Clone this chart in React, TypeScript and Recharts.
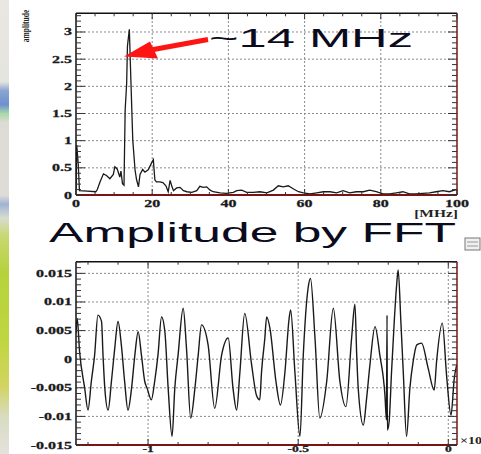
import React from 'react';
import { LineChart, Line, XAxis, YAxis, ReferenceLine } from 'recharts';

// ---------- Spectrum (top) ----------
const specFreq = [0, 0.2, 0.6, 0.9, 3, 5.2, 5.6, 6.3, 7.2, 8.0, 8.9, 9.8, 10.2, 10.8, 11.5, 11.8, 12.2, 12.6, 12.9, 13.3, 13.5, 14.0, 14.4, 14.9, 15.5, 15.9, 16.4, 16.8, 17.5, 18.1, 19.0, 19.9, 20.3, 20.7, 21.1, 22.0, 22.8, 23.6, 24.2, 24.7, 25.2, 25.6, 26.4, 27.3, 28.2, 29.1, 30.4, 31.7, 32.5, 33.4, 34.3, 35.2, 36.0, 37.8, 39.5, 41.3, 42.2, 43.5, 44.8, 46.5, 48.3, 50.1, 51.8, 53.1, 54.4, 55.7, 57.1, 58.4, 59.7, 61.4, 63.2, 64.9, 66.7, 68.4, 70.1, 71.8, 73.6, 75.4, 77.1, 78.8, 80.6, 82.3, 84.1, 85.8, 87.5, 89.2, 91.0, 92.8, 94.5, 96.3, 98.0, 99.3, 100];
const specAmp = [0.1, 0.92, 0.55, 0.08, 0.07, 0.06, 0.1, 0.24, 0.39, 0.36, 0.30, 0.38, 0.52, 0.48, 0.33, 0.44, 0.21, 0.18, 1.56, 2.06, 2.74, 3.05, 2.12, 1.01, 0.46, 0.28, 0.15, 0.38, 0.47, 0.42, 0.47, 0.60, 0.65, 0.28, 0.24, 0.24, 0.23, 0.17, 0.06, 0.27, 0.15, 0.08, 0.13, 0.14, 0.08, 0.06, 0.05, 0.08, 0.16, 0.14, 0.15, 0.09, 0.06, 0.04, 0.03, 0.05, 0.08, 0.09, 0.05, 0.05, 0.06, 0.04, 0.09, 0.17, 0.15, 0.17, 0.11, 0.06, 0.04, 0.02, 0.04, 0.06, 0.06, 0.04, 0.08, 0.04, 0.06, 0.06, 0.09, 0.06, 0.02, 0.02, 0.04, 0.06, 0.02, 0.02, 0.03, 0.04, 0.06, 0.08, 0.06, 0.09, 0.1];
const specXMajor = [0, 20, 40, 60, 80, 100];
const specXLabels = ['0', '20', '40', '60', '80', '100'];
const specYMajor = [0, 0.5, 1, 1.5, 2, 2.5, 3];
const specYLabels = ['0', '0.5', '1', '1.5', '2', '2.5', '3'];

// ---------- Waveform (bottom) ----------
const wavTime = [-1.240, -1.236, -1.228, -1.211, -1.200, -1.189, -1.178, -1.167, -1.155, -1.150, -1.144, -1.133, -1.122, -1.111, -1.100, -1.089, -1.078, -1.067, -1.055, -1.044, -1.033, -1.022, -1.011, -1.003, -0.989, -0.978, -0.967, -0.955, -0.944, -0.933, -0.920, -0.911, -0.900, -0.883, -0.872, -0.858, -0.844, -0.833, -0.822, -0.800, -0.778, -0.755, -0.733, -0.717, -0.705, -0.694, -0.678, -0.655, -0.639, -0.628, -0.622, -0.611, -0.605, -0.594, -0.574, -0.559, -0.544, -0.530, -0.525, -0.511, -0.494, -0.483, -0.467, -0.459, -0.444, -0.428, -0.405, -0.383, -0.361, -0.341, -0.322, -0.311, -0.305, -0.300, -0.283, -0.272, -0.261, -0.244, -0.228, -0.211, -0.206, -0.204, -0.203, -0.197, -0.189, -0.180, -0.172, -0.167, -0.158, -0.150, -0.139, -0.128, -0.117, -0.105, -0.089, -0.067, -0.047, -0.039, -0.020, -0.005, 0.009, 0.020, 0.028];
const wavSignal = [0.0046, 0.0071, 0.0013, -0.0051, -0.0089, -0.0039, 0.0007, 0.0077, 0.0066, 0.0007, -0.0051, -0.0089, -0.0039, 0.0019, 0.0066, 0.0025, -0.0039, -0.0089, -0.0051, 0.0007, 0.0048, 0.0007, -0.0039, -0.0051, -0.0071, -0.0039, 0.0007, 0.0074, 0.0048, -0.0051, -0.0135, -0.0051, 0.0007, 0.0089, 0.0019, -0.0103, -0.0051, 0.0007, 0.0060, 0.0025, -0.0086, 0.0007, 0.0037, -0.0051, -0.0089, -0.0022, 0.0080, -0.0010, -0.0063, -0.0071, -0.0022, 0.0037, 0.0074, 0.0054, -0.0039, -0.0080, -0.0022, 0.0072, 0.0086, -0.0022, -0.0135, 0.0007, 0.0124, 0.0141, 0.0037, -0.0103, -0.0039, 0.0089, -0.0039, -0.0083, 0.0037, 0.0096, 0.0007, -0.0051, -0.0115, -0.0068, -0.0010, 0.0057, 0.0007, -0.0063, -0.0106, 0.0077, -0.0124, -0.0109, -0.0022, 0.0066, 0.0130, 0.0156, 0.0066, -0.0022, -0.0135, -0.0051, -0.0004, 0.0025, 0.0028, -0.0016, -0.0054, -0.0004, 0.0063, -0.0033, -0.0098, -0.0033, -0.0010];
const wavXMajor = [-1, -0.5, 0];
const wavXLabels = ['-1', '-0.5', '0'];
const wavYMajor = [-0.015, -0.01, -0.005, 0, 0.005, 0.01, 0.015];
const wavYLabels = ['-0.015', '-0.01', '-0.005', '0', '0.005', '0.01', '0.015'];

const minorTicks = (a: number, b: number, step: number) => {
  const out: number[] = [];
  const n = Math.round((b - a) / step);
  for (let i = 0; i <= n; i++) out.push(+(a + i * step).toFixed(6));
  return out;
};

const specXMinor = minorTicks(0, 100, 5);
const specYMinor = minorTicks(0, 3.3, 0.1);
const wavXMinor = minorTicks(-1.2, 0, 0.1);
const wavYMinor = minorTicks(-0.015, 0.017, 0.001);

const specData = specFreq.map((f, i) => ({ f, a: specAmp[i] }));
const wavData = wavTime.map((t, i) => ({ t, v: wavSignal[i] }));

const SERIF = '"Liberation Serif", "DejaVu Serif", serif';
const SANS = '"Liberation Sans", Arial, sans-serif';
const FRAME_DARK = '#111';
const FRAME_RED = '#7a1414';
const GRID = '#8a8a8a';

type Side = 'left' | 'right' | 'top' | 'bottom';

function makeTick(side: Side, major: number[], labels: string[] | null, majorLen: number, minorLen: number, color: string, labelDy = 12, labelSize = 10) {
  return (props: any) => {
    const { x, y, payload } = props;
    const v = payload.value;
    const idx = major.findIndex((m) => Math.abs(m - v) < 1e-7);
    const len = idx >= 0 ? majorLen : minorLen;
    let line: any = null;
    if (side === 'left') line = <line x1={x} y1={y} x2={x + len} y2={y} stroke={color} strokeWidth={1} />;
    if (side === 'right') line = <line x1={x} y1={y} x2={x - len} y2={y} stroke={color} strokeWidth={1} />;
    if (side === 'top') line = <line x1={x} y1={y} x2={x} y2={y + len} stroke={color} strokeWidth={1} />;
    if (side === 'bottom') line = <line x1={x} y1={y} x2={x} y2={y - len} stroke={color} strokeWidth={1} />;
    let label: any = null;
    if (labels && idx >= 0) {
      if (side === 'left') {
        label = (
          <text transform={`translate(${x - 4},${y + 3.5}) scale(1.6,1)`} textAnchor="end" fontFamily={SERIF} fontWeight="bold" fontSize={labelSize} fill="#1a1a1a" stroke="#1a1a1a" strokeWidth={0.25}>
            {labels[idx]}
          </text>
        );
      } else if (side === 'bottom') {
        label = (
          <text transform={`translate(${x},${y + labelDy}) scale(1.6,1)`} textAnchor="middle" fontFamily={SERIF} fontWeight="bold" fontSize={labelSize} fill="#1a1a1a" stroke="#1a1a1a" strokeWidth={0.25}>
            {labels[idx]}
          </text>
        );
      }
    }
    return (
      <g>
        {line}
        {label}
      </g>
    );
  };
}

function Spectrum() {
  return (
    <LineChart width={481} height={225} data={specData} margin={{ top: 12.3, right: 23, bottom: 29, left: 75 }}>
      <XAxis xAxisId="b" orientation="bottom" type="number" dataKey="f" domain={[0, 100]} allowDataOverflow ticks={specXMinor} interval={0} height={1} tickSize={0} tickMargin={0} tickLine={false} axisLine={{ stroke: FRAME_RED, strokeWidth: 2 }} tick={makeTick('bottom', specXMajor, specXLabels, 6, 3, '#333')} />
      <XAxis xAxisId="t" orientation="top" type="number" dataKey="f" domain={[0, 100]} allowDataOverflow ticks={specXMinor} interval={0} height={1} tickSize={0} tickMargin={0} tickLine={false} axisLine={{ stroke: FRAME_DARK, strokeWidth: 1.5 }} tick={makeTick('top', specXMajor, null, 6, 3, '#333')} />
      <YAxis yAxisId="l" orientation="left" type="number" domain={[0, 3.344]} allowDataOverflow ticks={specYMinor} interval={0} width={1} tickSize={0} tickMargin={0} tickLine={false} axisLine={{ stroke: FRAME_DARK, strokeWidth: 1.5 }} tick={makeTick('left', specYMajor, specYLabels, 9, 5, '#333')} />
      <YAxis yAxisId="r" orientation="right" type="number" domain={[0, 3.344]} allowDataOverflow ticks={specYMinor} interval={0} width={1} tickSize={0} tickMargin={0} tickLine={false} axisLine={{ stroke: FRAME_RED, strokeWidth: 1.5 }} tick={makeTick('right', specYMajor, null, 9, 5, '#333')} />
      {specXMajor.filter((v) => v > 0 && v < 100).map((v) => (
        <ReferenceLine key={'sx' + v} xAxisId="b" yAxisId="l" x={v} stroke={GRID} strokeDasharray="2 2" strokeWidth={1} />
      ))}
      {specYMajor.filter((v) => v > 0).map((v) => (
        <ReferenceLine key={'sy' + v} xAxisId="b" yAxisId="l" y={v} stroke={GRID} strokeDasharray="2 2" strokeWidth={1} />
      ))}
      <Line xAxisId="b" yAxisId="l" type="linear" dataKey="a" stroke="#1a1a1a" strokeWidth={1.3} dot={false} isAnimationActive={false} />
    </LineChart>
  );
}

function Waveform() {
  return (
    <LineChart width={481} height={204} data={wavData} margin={{ top: 10.7, right: 23, bottom: 8, left: 75 }}>
      <XAxis xAxisId="b" orientation="bottom" type="number" dataKey="t" domain={[-1.24, 0.029]} allowDataOverflow ticks={wavXMinor} interval={0} height={1} tickSize={0} tickMargin={0} tickLine={false} axisLine={{ stroke: FRAME_RED, strokeWidth: 2 }} tick={makeTick('bottom', wavXMajor, wavXLabels, 6, 3, '#333', 6.8, 8.5)} />
      <XAxis xAxisId="t" orientation="top" type="number" dataKey="t" domain={[-1.24, 0.029]} allowDataOverflow ticks={wavXMinor} interval={0} height={1} tickSize={0} tickMargin={0} tickLine={false} axisLine={{ stroke: FRAME_DARK, strokeWidth: 1.5 }} tick={makeTick('top', wavXMajor, null, 6, 3, '#333')} />
      <YAxis yAxisId="l" orientation="left" type="number" domain={[-0.015, 0.01704]} allowDataOverflow ticks={wavYMinor} interval={0} width={1} tickSize={0} tickMargin={0} tickLine={false} axisLine={{ stroke: FRAME_DARK, strokeWidth: 1.5 }} tick={makeTick('left', wavYMajor, wavYLabels, 9, 5, '#333')} />
      <YAxis yAxisId="r" orientation="right" type="number" domain={[-0.015, 0.01704]} allowDataOverflow ticks={wavYMinor} interval={0} width={1} tickSize={0} tickMargin={0} tickLine={false} axisLine={{ stroke: FRAME_RED, strokeWidth: 1.5 }} tick={makeTick('right', wavYMajor, null, 9, 5, '#333')} />
      {wavXMajor.map((v) => (
        <ReferenceLine key={'wx' + v} xAxisId="b" yAxisId="l" x={v} stroke={GRID} strokeDasharray="2 2" strokeWidth={1} />
      ))}
      {wavYMajor.filter((v) => v > -0.015).map((v) => (
        <ReferenceLine key={'wy' + v} xAxisId="b" yAxisId="l" y={v} stroke={GRID} strokeDasharray="2 2" strokeWidth={1} />
      ))}
      <Line xAxisId="b" yAxisId="l" type="monotone" dataKey="v" stroke="#1a1a1a" strokeWidth={1.4} dot={false} isAnimationActive={false} />
    </LineChart>
  );
}

export default function App() {
  return (
    <div style={{ position: 'absolute', left: 0, top: 0, width: 481, height: 454, background: '#fff', overflow: 'hidden' }}>
      <div
        style={{
          position: 'absolute', left: 0, top: 0, width: 9, height: 454,
          background: 'linear-gradient(to bottom, #e9e7e2 0%, #e4e4de 18%, #8aa4d0 20%, #6e8fcf 23%, #a8d8a8 25%, #dcdcd4 27%, #dedcd6 43%, #9eb4d4 45%, #d8dcd0 48%, #c8d870 52%, #b5d23c 60%, #c0d640 75%, #d2d460 85%, #d8dcc4 92%, #e4e2dc 100%)',
        }}
      />
      <div style={{ position: 'absolute', left: 0, top: 0 }}>
        <Spectrum />
      </div>
      <div style={{ position: 'absolute', left: 0, top: 250 }}>
        <Waveform />
      </div>
      <svg width={481} height={454} style={{ position: 'absolute', left: 0, top: 0, pointerEvents: 'none' }}>
        <text transform="translate(28.5,26) rotate(-90) scale(1,1.45)" textAnchor="middle" fontFamily={SERIF} fontWeight="bold" fontSize={7.5} fill="#222">amplitude</text>
        <text transform="translate(458,216.5) scale(1.55,1)" textAnchor="end" fontFamily={SERIF} fontWeight="bold" fontSize={10} fill="#222">[MHz]</text>
        <text transform="translate(460,444) scale(1.4,1)" fontFamily={SERIF} fontWeight="bold" fontSize={10} fill="#222">×10</text>
        <text x={209} y={47} fontFamily={SANS} fontSize={26} textLength={204} lengthAdjust="spacingAndGlyphs" fill="#0b0b1e">~14 MHz</text>
        <line x1={208} y1={39.5} x2={148} y2={50.5} stroke="#ff1414" strokeWidth={5} />
        <polygon points="124,56.5 150,41.5 158,58.5" fill="#ff1414" />
        <text x={49} y={242} fontFamily={SANS} fontSize={28} textLength={407} lengthAdjust="spacingAndGlyphs" fill="#0b0b1e">Amplitude by FFT</text>
        <rect x={465} y={238} width={15} height={12} fill="#f0f0f0" stroke="#777" strokeWidth={1} />
        <line x1={467} y1={242} x2={478} y2={242} stroke="#999" strokeWidth={1} />
        <line x1={467} y1={246} x2={478} y2={246} stroke="#999" strokeWidth={1} />
      </svg>
    </div>
  );
}
